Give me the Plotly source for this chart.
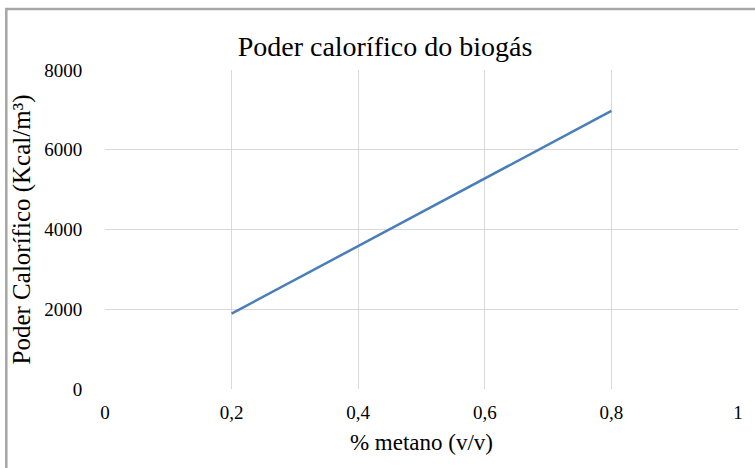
import plotly.graph_objects as go

metano = [0.2, 0.4, 0.6, 0.8]
poder = [1890, 3580, 5280, 6975]

x_ticks = [0, 0.2, 0.4, 0.6, 0.8, 1]
x_labels = ["0", "0,2", "0,4", "0,6", "0,8", "1"]
y_ticks = [0, 2000, 4000, 6000, 8000]
y_labels = ["0", "2000", "4000", "6000", "8000"]

FONT = "Times New Roman, Liberation Serif, serif"

fig = go.Figure()
fig.add_trace(go.Scatter(x=metano, y=poder, mode="lines",
                         line=dict(color="#4a7ebb", width=2.5),
                         showlegend=False, hoverinfo="skip"))

fig.update_layout(
    width=755, height=468,
    margin=dict(l=105, r=15, t=70, b=79),
    paper_bgcolor="white", plot_bgcolor="white",
    font=dict(family=FONT, color="#000000", size=19),
    title=dict(text="Poder calorífico do biogás", x=385 / 755, xanchor="center",
               y=1 - 46 / 468, yanchor="middle",
               font=dict(family=FONT, size=28, color="#000000")),
    xaxis=dict(range=[0, 1], tickvals=x_ticks, ticktext=x_labels,
               showgrid=True, gridcolor="#d9d9d9", gridwidth=1,
               zeroline=False, showline=False,
               ticks="outside", ticklen=6, tickcolor="rgba(0,0,0,0)",
               tickfont=dict(family=FONT, size=19, color="#000000"),
               title=dict(text="% metano (v/v)", standoff=12,
                          font=dict(family=FONT, size=23, color="#000000"))),
    yaxis=dict(range=[0, 8000], tickvals=y_ticks, ticktext=y_labels,
               showgrid=True, gridcolor="#d9d9d9", gridwidth=1,
               zeroline=False, showline=False,
               ticks="outside", ticklen=18, tickcolor="rgba(0,0,0,0)",
               tickfont=dict(family=FONT, size=19, color="#000000"),
               title=dict(text="Poder Calorífico (Kcal/m³)", standoff=6,
                          font=dict(family=FONT, size=25, color="#000000"))),
    shapes=[dict(type="rect", xref="paper", yref="paper",
                 x0=(6 - 105) / 635, x1=2.0,
                 y0=-1.0, y1=(389 - 9) / 319,
                 line=dict(color="#a6a6a6", width=2.5),
                 fillcolor="rgba(0,0,0,0)", layer="below")],
)

fig.write_html("out.html")
